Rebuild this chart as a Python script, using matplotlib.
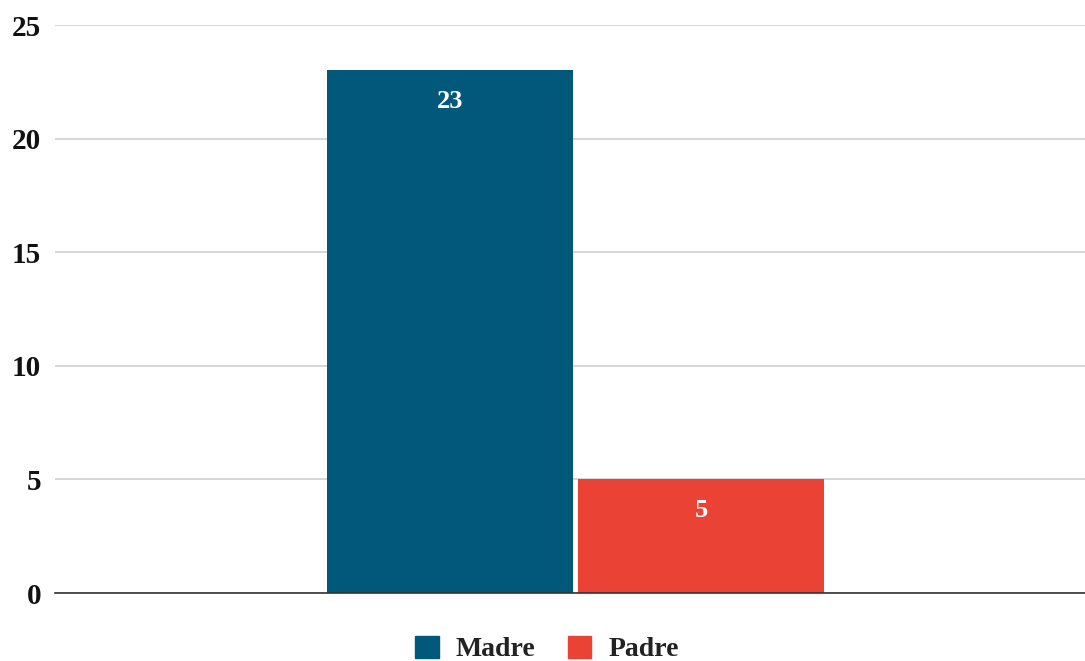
import matplotlib
matplotlib.use("Agg")
import matplotlib.pyplot as plt
import numpy as np

# datos
series = ["Madre", "Padre"]
values = [23, 5]
colors = ["#01587A", "#EA4335"]
yticks = [0, 5, 10, 15, 20, 25]


def main():
    plt.rcParams["font.family"] = ["Liberation Serif", "DejaVu Serif"]
    plt.rcParams["font.weight"] = "bold"

    fig = plt.figure(figsize=(10.85, 6.61), dpi=100)
    # ejes: el borde derecho sale un poco de la figura (como en la referencia)
    ax = fig.add_axes([55 / 1085, 68 / 661, 1041 / 1085, 568 / 661])

    width = 0.472
    gap = 0.01
    xs = np.array([-(width + gap) / 2, (width + gap) / 2])
    bars = ax.bar(xs, values, width=width, color=colors, label=series, zorder=3)

    for b, v in zip(bars, values):
        ax.text(b.get_x() + b.get_width() / 2, v - 1.38, str(v),
                ha="center", va="center", color="white",
                fontsize=19, fontweight="bold", zorder=4)

    ax.set_xlim(-1, 1)
    ax.set_ylim(0, 25)
    ax.set_yticks(yticks)
    ax.set_xticks([])
    ax.tick_params(axis="y", length=0, pad=10, labelsize=21, labelcolor="#111111")
    for lab in ax.get_yticklabels():
        lab.set_fontweight("bold")

    ax.grid(axis="y", color="#d0d0d0", linewidth=1.2, zorder=0)
    for s in ["top", "right", "left"]:
        ax.spines[s].set_visible(False)
    ax.spines["bottom"].set_color("#333333")
    ax.spines["bottom"].set_linewidth(1.2)
    ax.spines["bottom"].set_zorder(5)

    handles = [plt.Rectangle((0, 0), 1, 1, color=c) for c in colors]
    leg = fig.legend(handles, series, loc="center", bbox_to_anchor=(547 / 1085, 1 - 649 / 661),
                     ncol=2, frameon=False, handlelength=0.86, handleheight=0.86,
                     handletextpad=0.6, columnspacing=1.15,
                     prop={"weight": "bold", "size": 20})
    for t in leg.get_texts():
        t.set_color("#222222")

    fig.savefig("out.png", dpi=100)


if __name__ == "__main__":
    main()
